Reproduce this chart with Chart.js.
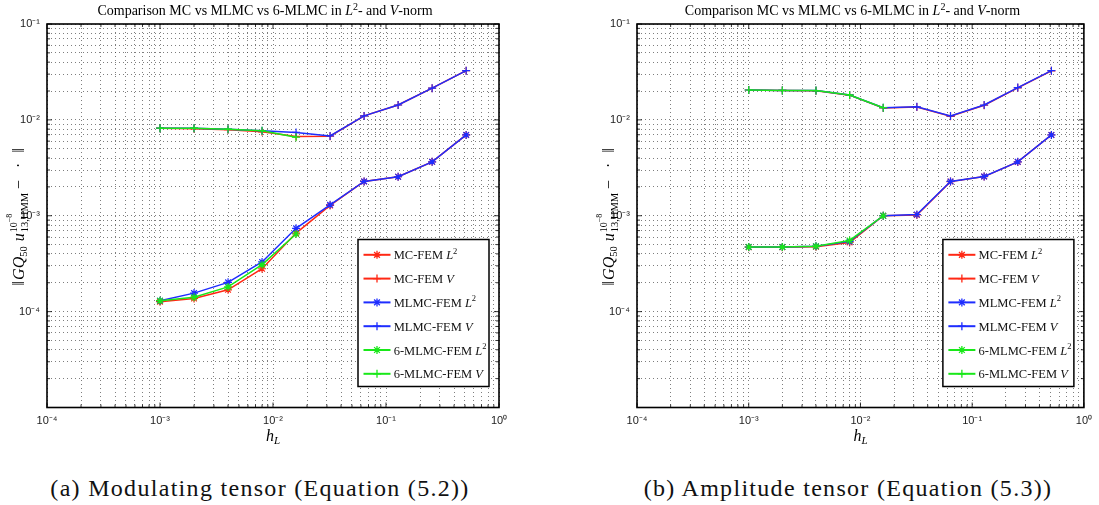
<!DOCTYPE html>
<html>
<head>
<meta charset="utf-8">
<script src="https://cdn.jsdelivr.net/npm/chart.js@4.4.1/dist/chart.umd.min.js"></script>
<style>
  body { margin: 0; background: #fff; width: 1099px; height: 505px; overflow: hidden; position: relative; }
  .box { position: absolute; top: 0; height: 460px; }
  .cap { position: absolute; top: 476px; font-family: "Liberation Serif", serif; font-size: 24px; line-height: 24px;
         letter-spacing: 1.3px; white-space: nowrap; transform: translateX(-50%); color: #111; }
</style>
</head>
<body>
<div class="box" style="left:0;width:549px"><canvas id="chartA"></canvas></div>
<div class="box" style="left:590px;width:509px"><canvas id="chartB"></canvas></div>
<div class="cap" style="left:260px">(a) Modulating tensor (Equation (5.2))</div>
<div class="cap" style="left:848px">(b) Amplitude tensor (Equation (5.3))</div>

<script>
// mesh widths h_L
const hL = [0.001, 0.002, 0.004, 0.008, 0.016, 0.032, 0.064, 0.128, 0.256, 0.512];

// (a) modulating tensor
const mcL2A    = [1.27e-4, 1.37e-4, 1.69e-4, 2.80e-4, 6.6e-4, 1.28e-3, 2.28e-3, 2.55e-3, 3.65e-3, 6.97e-3];
const mcVA     = [8.2e-3, 8.1e-3, 7.9e-3, 7.5e-3, 6.7e-3, 6.75e-3, 1.10e-2, 1.43e-2, 2.14e-2, 3.26e-2];
const mlmcL2A  = [1.30e-4, 1.56e-4, 2.02e-4, 3.30e-4, 7.4e-4, 1.30e-3, 2.28e-3, 2.55e-3, 3.65e-3, 6.97e-3];
const mlmcVA   = [8.2e-3, 8.2e-3, 8.0e-3, 7.7e-3, 7.4e-3, 6.8e-3, 1.10e-2, 1.43e-2, 2.14e-2, 3.26e-2];
const mlmc6L2A = [1.30e-4, 1.41e-4, 1.81e-4, 3.09e-4, 6.45e-4];
const mlmc6VA  = [8.2e-3, 8.2e-3, 8.0e-3, 7.7e-3, 6.6e-3];

// (b) amplitude tensor
const mcL2B    = [4.70e-4, 4.70e-4, 4.75e-4, 5.27e-4, 1.0e-3, 1.02e-3, 2.27e-3, 2.56e-3, 3.64e-3, 6.95e-3];
const mcVB     = [2.05e-2, 2.03e-2, 2.01e-2, 1.81e-2, 1.33e-2, 1.36e-2, 1.09e-2, 1.42e-2, 2.16e-2, 3.25e-2];
const mlmcL2B  = [4.72e-4, 4.72e-4, 4.80e-4, 5.4e-4, 1.0e-3, 1.03e-3, 2.28e-3, 2.57e-3, 3.65e-3, 6.97e-3];
const mlmcVB   = [2.05e-2, 2.03e-2, 2.02e-2, 1.82e-2, 1.34e-2, 1.37e-2, 1.10e-2, 1.43e-2, 2.17e-2, 3.26e-2];
const mlmc6L2B = [4.72e-4, 4.72e-4, 4.82e-4, 5.53e-4, 1.0e-3];
const mlmc6VB  = [2.05e-2, 2.03e-2, 2.02e-2, 1.82e-2, 1.34e-2];

// ticks
const xTicks = [1e-4, 1e-3, 1e-2, 1e-1, 1];
const xTickText = ['10⁻⁴', '10⁻³', '10⁻²', '10⁻¹', '10⁰'];
const yTicks = [1e-4, 1e-3, 1e-2, 1e-1];
const yTickText = ['10⁻⁴', '10⁻³', '10⁻²', '10⁻¹'];

// legend
const seriesNames = ['MC-FEM', 'MC-FEM', 'MLMC-FEM', 'MLMC-FEM', '6-MLMC-FEM', '6-MLMC-FEM'];
const normNames = ['L', 'V', 'L', 'V', 'L', 'V'];

const RED = 'rgb(255,40,20)', BLUE = 'rgb(30,45,255)', GREEN = 'rgb(25,232,25)';
const colors = [RED, RED, BLUE, BLUE, GREEN, GREEN];
const styles = ['star', 'cross', 'star', 'cross', 'star', 'cross'];

const R = n => n + 'px "Liberation Serif", "Times New Roman", serif';
const I = n => 'italic ' + R(n);

function drawRich(ctx, segs, x0, y0, centered) {
  const place = [];
  let x = 0, mark = 0, far = 0;
  for (const s of segs) {
    ctx.font = s.f;
    if (s.mark) mark = x;
    if (s.reset) x = mark; else x = Math.max(x, far);
    x += s.gap || 0;
    place.push([s, x]);
    x += ctx.measureText(s.t).width;
    far = Math.max(far, x);
  }
  const off = centered ? -far / 2 : 0;
  for (const [s, px] of place) {
    ctx.font = s.f;
    ctx.fillText(s.t, x0 + off + px, y0 + (s.dy || 0));
  }
  return far;
}

function marker(ctx, style, x, y, r) {
  ctx.beginPath();
  ctx.moveTo(x - r, y); ctx.lineTo(x + r, y);
  ctx.moveTo(x, y - r); ctx.lineTo(x, y + r);
  if (style === 'star') {
    const d = r * 0.72;
    ctx.moveTo(x - d, y - d); ctx.lineTo(x + d, y + d);
    ctx.moveTo(x - d, y + d); ctx.lineTo(x + d, y - d);
  }
  ctx.stroke();
}

const frame = {
  id: 'frame',
  afterDraw(chart) {
    const { ctx, chartArea: a, scales } = chart;
    ctx.save();
    ctx.fillStyle = '#000';
    ctx.strokeStyle = '#000';
    ctx.textAlign = 'left';
    ctx.textBaseline = 'alphabetic';

    // inner tick marks on all four sides
    ctx.lineWidth = 0.8;
    const isDecade = v => Math.abs(Math.log10(v) - Math.round(Math.log10(v))) < 1e-9;
    ctx.beginPath();
    scales.x.ticks.forEach(t => {
      const px = scales.x.getPixelForValue(t.value), len = isDecade(t.value) ? 5 : 3;
      ctx.moveTo(px, a.bottom); ctx.lineTo(px, a.bottom - len);
      ctx.moveTo(px, a.top); ctx.lineTo(px, a.top + len);
    });
    scales.y.ticks.forEach(t => {
      const py = scales.y.getPixelForValue(t.value), len = isDecade(t.value) ? 5 : 3;
      ctx.moveTo(a.left, py); ctx.lineTo(a.left + len, py);
      ctx.moveTo(a.right, py); ctx.lineTo(a.right - len, py);
    });
    ctx.stroke();

    // axes box
    ctx.lineWidth = 1.6;
    ctx.strokeRect(a.left, a.top, a.right - a.left, a.bottom - a.top);

    // title
    drawRich(ctx, [
      { t: 'Comparison MC vs MLMC vs 6-MLMC in ', f: R(14) },
      { t: 'L', f: I(14) },
      { t: '2', f: R(10), dy: -5 },
      { t: '- and ', f: R(14) },
      { t: 'V', f: I(14) },
      { t: '-norm', f: R(14) }
    ], (a.left + a.right) / 2 - 8, 15, true);

    // x axis title
    drawRich(ctx, [
      { t: 'h', f: I(16) },
      { t: 'L', f: I(11), dy: 3 }
    ], (a.left + a.right) / 2, 440.5, true);

    // y axis title (rotated)
    ctx.save();
    ctx.translate(a.left - 23, (a.top + a.bottom) / 2 + 1);
    ctx.rotate(-Math.PI / 2);
    drawRich(ctx, [
      { t: '‖', f: R(16) },
      { t: 'GQ', f: I(16), gap: 1 },
      { t: '50', f: R(10.5), dy: 3 },
      { t: 'u', f: I(16), gap: 5 },
      { t: '10', f: R(10), dy: -7.5, gap: 1, mark: true },
      { t: '−8', f: R(8), dy: -12.5 },
      { t: '13,HMM', f: R(10.5), dy: 4, reset: true, gap: 1 },
      { t: '−', f: R(16), gap: 4 },
      { t: '·', f: R(16), gap: 12 },
      { t: '‖', f: R(16), gap: 10 }
    ], 0, 0, true);
    ctx.restore();

    // legend
    const lw = 131, lh = 147;
    const lx = a.right - 10 - lw, ly = a.bottom - 21 - lh;
    ctx.fillStyle = '#fff';
    ctx.fillRect(lx, ly, lw, lh);
    ctx.lineWidth = 1.5;
    ctx.strokeStyle = '#000';
    ctx.strokeRect(lx, ly, lw, lh);
    chart.data.datasets.forEach((ds, i) => {
      const ry = ly + 15.3 + i * 23.8;
      ctx.strokeStyle = ds.borderColor;
      ctx.lineWidth = 2;
      ctx.beginPath();
      ctx.moveTo(lx + 5.5, ry); ctx.lineTo(lx + 32.5, ry);
      ctx.stroke();
      ctx.lineWidth = 1.3;
      marker(ctx, ds.pointStyle, lx + 19, ry, 4);
      ctx.fillStyle = '#111';
      const segs = [{ t: seriesNames[i] + ' ', f: R(12.5) }, { t: normNames[i], f: I(12.5) }];
      if (normNames[i] === 'L') segs.push({ t: '2', f: R(8.5), dy: -5.5 });
      drawRich(ctx, segs, lx + 35.7, ry + 4.5, false);
    });
    ctx.restore();
  }
};

function series(vals, i) {
  return {
    label: seriesNames[i] + ' ' + normNames[i],
    data: vals.map((v, k) => ({ x: hL[k], y: v })),
    borderColor: colors[i],
    backgroundColor: colors[i],
    borderWidth: 1.5,
    pointStyle: styles[i],
    pointRadius: 4,
    pointBorderWidth: 1.2,
    tension: 0,
    order: 3 - Math.floor(i / 2)
  };
}

function decadeTicks(scale, lo, hi) {
  const list = [];
  for (let e = lo; e < hi; e++) {
    for (let m = 1; m <= 9; m++) list.push({ value: m * Math.pow(10, e) });
  }
  list.push({ value: Math.pow(10, hi) });
  scale.ticks = list;
}

function label(v, ticks, text) {
  const i = ticks.findIndex(t => Math.abs(t - v) / t < 1e-6);
  return i >= 0 ? text[i] : '';
}

function makeChart(id, sets, axisWidth, padRight) {
  return new Chart(document.getElementById(id), {
    type: 'line',
    data: { datasets: sets.map(series) },
    plugins: [frame],
    options: {
      responsive: true,
      maintainAspectRatio: false,
      animation: false,
      events: [],
      layout: { padding: { top: 24, right: padRight, bottom: 0, left: 0 } },
      plugins: { legend: { display: false }, title: { display: false }, tooltip: { enabled: false } },
      scales: {
        x: {
          type: 'logarithmic',
          min: 1e-4, max: 1,
          afterBuildTicks: s => decadeTicks(s, -4, 0),
          afterFit: s => { s.height = 460 - 407.5; },
          grid: { color: 'rgba(40,40,40,0.6)', lineWidth: 1, drawTicks: false },
          border: { display: false, dash: [1, 3] },
          ticks: {
            autoSkip: false, maxRotation: 0, minRotation: 0, padding: 7,
            color: '#222', font: { family: '"Liberation Sans", Arial, sans-serif', size: 11 },
            callback: v => label(v, xTicks, xTickText)
          }
        },
        y: {
          type: 'logarithmic',
          min: 1e-5, max: 1e-1,
          afterBuildTicks: s => decadeTicks(s, -5, -1),
          afterFit: s => { s.width = axisWidth; },
          grid: { color: 'rgba(40,40,40,0.6)', lineWidth: 1, drawTicks: false },
          border: { display: false, dash: [1, 3] },
          ticks: {
            autoSkip: false, padding: 7,
            color: '#222', font: { family: '"Liberation Sans", Arial, sans-serif', size: 11 },
            callback: v => label(v, yTicks, yTickText)
          }
        }
      }
    }
  });
}

makeChart('chartA', [mcL2A, mcVA, mlmcL2A, mlmcVA, mlmc6L2A, mlmc6VA], 47, 50);
makeChart('chartB', [mcL2B, mcVB, mlmcL2B, mlmcVB, mlmc6L2B, mlmc6VB], 47, 12);
</script>
</body>
</html>
